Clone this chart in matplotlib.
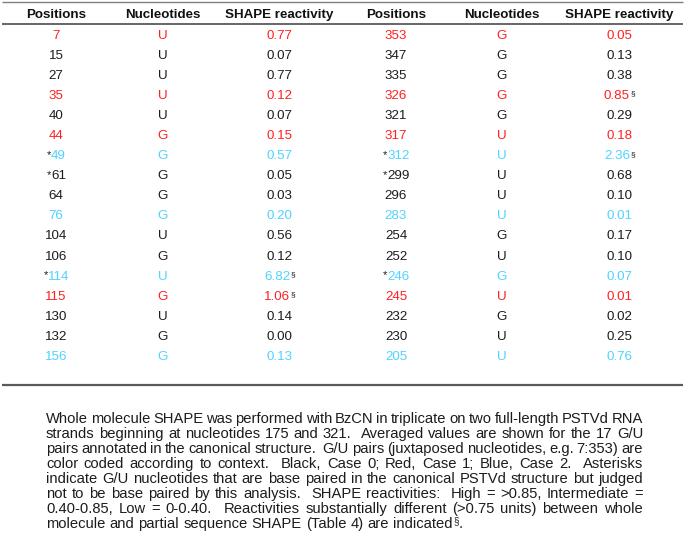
import re

import matplotlib
matplotlib.use("Agg")
import matplotlib.pyplot as plt

# ---- table data ----
headers = ["Positions", "Nucleotides", "SHAPE reactivity"]

left_pos = [7, 15, 27, 35, 40, 44, 49, 61, 64, 76, 104, 106, 114, 115, 130, 132, 156]
left_nuc = ["U", "U", "U", "U", "U", "G", "G", "G", "G", "G", "U", "G", "U", "G", "U", "G", "G"]
left_val = [0.77, 0.07, 0.77, 0.12, 0.07, 0.15, 0.57, 0.05, 0.03, 0.20, 0.56, 0.12, 6.82, 1.06, 0.14, 0.00, 0.13]
left_star = [49, 61, 114]
left_sect = [114, 115]

right_pos = [353, 347, 335, 326, 321, 317, 312, 299, 296, 283, 254, 252, 246, 245, 232, 230, 205]
right_nuc = ["G", "G", "G", "G", "G", "U", "U", "U", "U", "U", "G", "U", "G", "U", "G", "U", "U"]
right_val = [0.05, 0.13, 0.38, 0.85, 0.29, 0.18, 2.36, 0.68, 0.10, 0.01, 0.17, 0.10, 0.07, 0.01, 0.02, 0.25, 0.76]
right_star = [312, 299, 246]
right_sect = [326, 312]

# case of each G/U pair (0 black, 1 red, 2 blue)
pair_case = [1, 0, 0, 1, 0, 1, 2, 0, 0, 2, 0, 0, 2, 1, 0, 0, 2]

caption_lines = [
    "Whole molecule SHAPE was performed with BzCN in triplicate on two full-length PSTVd RNA",
    "strands beginning at nucleotides 175 and 321.  Averaged values are shown for the 17 G/U",
    "pairs annotated in the canonical structure.  G/U pairs (juxtaposed nucleotides, e.g. 7:353) are",
    "color coded according to context.  Black, Case 0; Red, Case 1; Blue, Case 2.  Asterisks",
    "indicate G/U nucleotides that are base paired in the canonical PSTVd structure but judged",
    "not to be base paired by this analysis.  SHAPE reactivities:  High = >0.85, Intermediate =",
    "0.40-0.85, Low = 0-0.40.  Reactivities substantially different (>0.75 units) between whole",
    "molecule and partial sequence SHAPE (Table 4) are indicated",
]

# ---- style ----
FONT = ["Liberation Sans", "DejaVu Sans"]
case_colors = {0: "#1c1c1c", 1: "#ff2020", 2: "#4fd3ff"}
TXT = "#1c1c1c"
FS = 9.6
CAP_FS = 10.6

fig = plt.figure(figsize=(6.84, 5.39), dpi=100)
ax = fig.add_axes([0, 0, 1, 1])
ax.set_xlim(0, 684)
ax.set_ylim(539, 0)
ax.axis("off")
renderer = fig.canvas.get_renderer()


def width(t):
    return t.get_window_extent(renderer).width


def base(yc, fs=FS):
    # baseline for a visually centred capital/digit line
    return yc + 0.716 * fs * 100 / 72 / 2


left_cols = [56, 163, 279.5]
right_cols = [396, 502, 619.5]
header_y = 13.5
row0, row_h = 34.3, 20.04

# rules
for y, lw, c in [(1.5, 1.0, "#808080"), (23.5, 1.3, "#5a5a5a"), (384.5, 1.6, "#5a5a5a")]:
    ax.plot([1.5, 683], [y, y], color=c, lw=lw, solid_capstyle="butt")

for cols in (left_cols, right_cols):
    for x, h in zip(cols, headers):
        ax.text(x, base(header_y), h, ha="center", va="baseline", fontsize=FS,
                fontweight="bold", family=FONT, color="#111111")


def draw_half(cols, pos, nuc, val, stars, sects):
    for i, (p, n, v) in enumerate(zip(pos, nuc, val)):
        y = base(row0 + i * row_h)
        c = case_colors[pair_case[i]]
        # position (with optional asterisk)
        xp = cols[0] + (2.5 if p in stars else 0)
        tp = ax.text(xp, y, str(p), ha="center", va="baseline", fontsize=FS, family=FONT, color=c)
        if p in stars:
            w = width(tp)
            ax.text(xp - w / 2, y - 1.5, "*", ha="right", va="baseline", fontsize=FS - 1.5,
                    family=FONT, color=TXT)
        ax.text(cols[1], y, n, ha="center", va="baseline", fontsize=FS, family=FONT, color=c)
        xv = cols[2] - (2.5 if p in sects else 0)
        tv = ax.text(xv, y, f"{v:.2f}", ha="center", va="baseline", fontsize=FS, family=FONT, color=c)
        if p in sects:
            w = width(tv)
            ax.text(xv + w / 2 + 0.3, y - 3.5, "§", ha="left", va="baseline", fontsize=FS - 3.5,
                    family=FONT, color=TXT)


draw_half(left_cols, left_pos, left_nuc, left_val, left_star, left_sect)
draw_half(right_cols, right_pos, right_nuc, right_val, right_star, right_sect)

# natural width of one space in the caption font
_probe2 = ax.text(0, 0, "a a", fontsize=CAP_FS, family=FONT)
_probe1 = ax.text(0, 0, "aa", fontsize=CAP_FS, family=FONT)
space_w = width(_probe2) - width(_probe1)
_probe2.remove()
_probe1.remove()

# ---- justified caption ----
cap_left, cap_right = 46, 643
cap_y0, cap_dy = 418, 15.0

for k, line in enumerate(caption_lines):
    yb = base(cap_y0 + k * cap_dy, CAP_FS)
    parts = re.split(r"( +)", line)
    words = parts[0::2]
    gaps = [len(s) for s in parts[1::2]]
    texts = [ax.text(0, yb, w, ha="left", va="baseline", fontsize=CAP_FS, family=FONT, color=TXT)
             for w in words]
    widths = [width(t) for t in texts]
    last = k == len(caption_lines) - 1
    sp = space_w if last else (cap_right - cap_left - sum(widths)) / sum(gaps)
    x = cap_left
    for i, t in enumerate(texts):
        t.set_x(x)
        x += widths[i]
        if i < len(gaps):
            x += gaps[i] * sp
    if last:
        ts = ax.text(x + 0.3, yb - 4.5, "§", ha="left", va="baseline", fontsize=CAP_FS - 3.5,
                     family=FONT, color=TXT)
        ax.text(x + 0.6 + width(ts), yb, ".", ha="left", va="baseline", fontsize=CAP_FS,
                family=FONT, color=TXT)

fig.savefig("out.png", dpi=100)
